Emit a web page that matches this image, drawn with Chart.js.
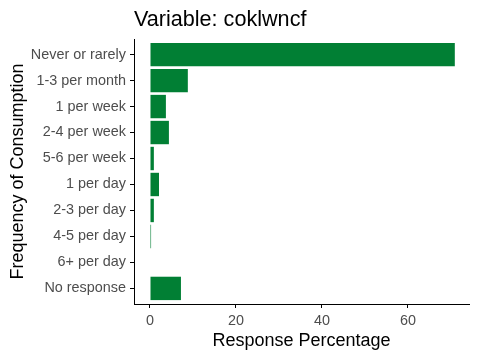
<!DOCTYPE html>
<html>
<head>
<meta charset="utf-8">
<style>
  html, body { margin: 0; padding: 0; background: #ffffff; }
  #wrap { width: 480px; height: 360px; }
</style>
<script src="https://cdn.jsdelivr.net/npm/chart.js@4/dist/chart.umd.min.js"></script>
</head>
<body>
<div id="wrap"><canvas id="c" width="480" height="360"></canvas></div>
<script>
const chartTitle = "Variable: coklwncf";
const categories = ["Never or rarely", "1-3 per month", "1 per week", "2-4 per week", "5-6 per week", "1 per day", "2-3 per day", "4-5 per day", "6+ per day", "No response"];
const responsePct = [70.9, 8.8, 3.7, 4.4, 0.9, 2.1, 0.9, 0.25, 0, 7.2];
const xTicks = [0, 20, 40, 60];
const xTitle = "Response Percentage";
const yTitle = "Frequency of Consumption";

const FONT = "'Liberation Sans', Arial, sans-serif";

const titlePlugin = {
  id: 'leftTitle',
  afterDraw(chart) {
    const ctx = chart.ctx;
    ctx.save();
    ctx.font = "21.6px " + FONT;
    ctx.fillStyle = "#000000";
    ctx.textAlign = "left";
    ctx.textBaseline = "alphabetic";
    ctx.fillText(chartTitle, chart.chartArea.left, 26);
    ctx.restore();
  }
};

const points = categories.map((c, i) => ({ x: responsePct[i], y: i }));

new Chart(document.getElementById('c'), {
  type: 'bar',
  data: {
    datasets: [{
      data: points,
      backgroundColor: '#017F34',
      borderWidth: 0,
      barPercentage: 0.9,
      categoryPercentage: 1.0
    }]
  },
  options: {
    indexAxis: 'y',
    responsive: false,
    animation: false,
    devicePixelRatio: 1,
    layout: { padding: { top: 39, left: 3, right: 11, bottom: 0 } },
    plugins: {
      legend: { display: false },
      tooltip: { enabled: false },
      title: { display: false }
    },
    scales: {
      x: {
        type: 'linear',
        min: -3.72,
        max: 74.2,
        afterBuildTicks(scale) { scale.ticks = xTicks.map(v => ({ value: v })); },
        afterFit(scale) { scale.height = 56; },
        border: { display: true, color: '#000000', width: 1 },
        grid: { display: true, drawOnChartArea: false, drawTicks: true, tickLength: 4, color: '#000000' },
        ticks: { color: '#4D4D4D', font: { family: FONT, size: 14.4 }, padding: 4, maxRotation: 0 },
        title: { display: true, text: xTitle, color: '#000000', font: { family: FONT, size: 18 }, padding: { top: 0, bottom: 8 } }
      },
      y: {
        type: 'linear',
        reverse: true,
        offset: false,
        min: -0.6,
        max: categories.length - 1 + 0.6,
        afterBuildTicks(scale) { scale.ticks = categories.map((c, i) => ({ value: i })); },
        afterFit(scale) { scale.width = 131; },
        border: { display: true, color: '#000000', width: 1 },
        grid: { display: true, offset: false, drawOnChartArea: false, drawTicks: true, tickLength: 4, color: '#000000' },
        ticks: {
          color: '#4D4D4D', font: { family: FONT, size: 14.4 }, padding: 4, autoSkip: false,
          callback: (v) => categories[v]
        },
        title: { display: true, text: yTitle, color: '#000000', font: { family: FONT, size: 18 }, padding: { top: 4, bottom: 0 } }
      }
    }
  },
  plugins: [titlePlugin]
});
</script>
</body>
</html>
